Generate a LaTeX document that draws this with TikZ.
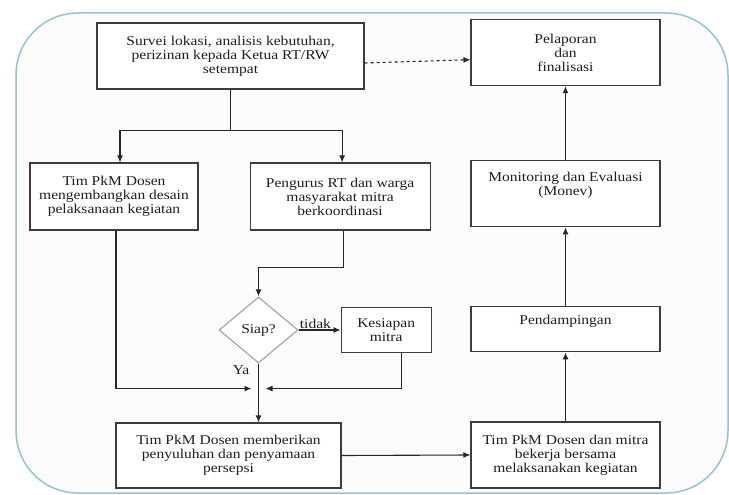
\documentclass[tikz,border=0pt]{standalone}
\usepackage{fontspec}
\setmainfont{Liberation Serif}[FakeStretch=1.15]
\usetikzlibrary{arrows.meta, positioning, shapes.geometric}
\definecolor{framecol}{RGB}{150,195,208}
\definecolor{boxline}{RGB}{60,60,60}
\definecolor{txtcol}{RGB}{30,30,30}
\tikzset{box/.style={rectangle,draw=boxline,line width=1.1pt,fill=white,align=center,inner sep=2pt,text=txtcol,font=\fontsize{13.5}{14}\selectfont},decision/.style={diamond,draw=gray!70,line width=1.2pt,fill=white,align=center,inner sep=0pt,minimum width=79pt,minimum height=66pt,text=txtcol,font=\fontsize{13.5}{14}\selectfont},lbl/.style={text=txtcol,inner sep=1pt,font=\fontsize{13.5}{14}\selectfont},link/.style={draw=black!85,line width=1.1pt},flow/.style={link,-{Latex[length=7pt,width=6pt]}},flowdash/.style={flow,dashed}}

\begin{document}
\begin{tikzpicture}[x=1pt,y=1pt]
\useasboundingbox (0,0) rectangle (729,-495);
% frame
\draw[framecol, line width=1.5pt, fill=gray!3, rounded corners=62pt] (16,-13) rectangle (728,-493);
% left part
\node[box, minimum width=267pt, minimum height=66pt] (survei) at (230.5,-56) {Survei lokasi, analisis kebutuhan,\\perizinan kepada Ketua RT/RW\\setempat};
\node[box, minimum width=168pt, minimum height=67pt] (desain) at (114,-196.5) {Tim PkM Dosen\\mengembangkan desain\\pelaksanaan kegiatan};
\node[box, minimum width=180pt, minimum height=67pt, right=51pt of desain] (koord) {Pengurus RT dan warga\\masyarakat mitra\\berkoordinasi};
\node[decision] (siap) at (258.5,-330) {Siap?};
\node[box, minimum width=90pt, minimum height=45pt, right=42pt of siap] (kesiapan) {Kesiapan\\mitra};
\node[box, minimum width=225pt, minimum height=65pt] (suluh) at (228.5,-455.5) {Tim PkM Dosen memberikan\\penyuluhan dan penyamaan\\persepsi};
% right column
\node[box, minimum width=189pt, minimum height=66pt] (kerja) at (565.5,-455) {Tim PkM Dosen dan mitra\\bekerja bersama\\melaksanakan kegiatan};
\node[box, minimum width=189pt, minimum height=45pt, above=69pt of kerja] (damping) {Pendampingan\\[6pt]};
\node[box, minimum width=189pt, minimum height=66pt, above=79pt of damping] (monev) {Monitoring dan Evaluasi\\(Monev)\\[6pt]};
\node[box, minimum width=189pt, minimum height=66pt, above=74pt of monev] (lapor) {Pelaporan\\dan\\finalisasi};
\node[lbl, below left=1pt and 8pt of siap.south] (ya) {Ya};
\coordinate (split) at ([yshift=-41pt]survei.south);
\coordinate (join) at ([yshift=-25pt]siap.south);
% connectors
\draw[flowdash] ([yshift=-7pt]survei.east) -- ([yshift=-7pt]lapor.west);
\draw[link] (survei.south) -- (split);
\draw[flow] (split) -| ([xshift=6pt]desain.north);
\draw[flow] (split) -| ([xshift=2pt]koord.north);
\draw[flow] ([xshift=3pt]koord.south) -- ++(0,-37) -| (siap.north);
\draw[flow] (siap.east) -- node[lbl, above, pos=0.4] (tidak) {tidak} (kesiapan.west);
\draw[flow] ([xshift=2pt]desain.south) |- ([xshift=-7pt]join);
\draw[flow] ([xshift=15pt]kesiapan.south) |- ([xshift=7pt]join);
\draw[flow] (siap.south) -- (siap.south |- suluh.north);
\draw[flow] (suluh.east) -- (kerja.west);
\draw[flow] (kerja) -- (damping);
\draw[flow] (damping) -- (monev);
\draw[flow] (monev) -- (lapor);
\end{tikzpicture}
\end{document}
